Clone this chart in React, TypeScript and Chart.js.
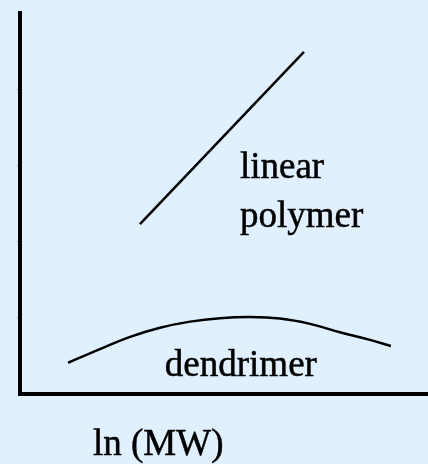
import React, { useEffect, useRef } from "react";
import { Chart, registerables } from "chart.js";

Chart.register(...registerables);

const linearX = [2.94, 6.96];
const linearY = [2.23, 4.49];

const dendX = [1.18, 1.96, 2.7, 3.43, 4.17, 4.9, 5.64, 6.37, 7.11, 7.84, 8.58, 9.09];
const dendY = [0.41, 0.59, 0.75, 0.87, 0.95, 0.995, 1.01, 0.99, 0.92, 0.81, 0.71, 0.63];

const yTicks = [0, 1, 2, 3, 4, 5];

const labels = [
  { text: "linear", x: 5.39, y: 2.83 },
  { text: "polymer", x: 5.39, y: 2.19 },
  { text: "dendrimer", x: 3.55, y: 0.23 },
];
const xTitle = "ln (MW)";

const BG = "#E0F0FF";
const FONT = '37px "Liberation Serif", "Times New Roman", serif';

export default function App() {
  const ref = useRef<HTMLCanvasElement | null>(null);

  useEffect(() => {
    document.body.style.margin = "0";
    document.body.style.background = BG;
    const canvas = ref.current;
    if (!canvas) return;

    const textPlugin = {
      id: "texts",
      beforeDraw(chart: any) {
        const ctx = chart.ctx;
        ctx.save();
        ctx.fillStyle = BG;
        ctx.fillRect(0, 0, chart.width, chart.height);
        ctx.restore();
      },
      afterDraw(chart: any) {
        const ctx = chart.ctx;
        const xs = chart.scales.x;
        const ys = chart.scales.y;
        ctx.save();
        ctx.fillStyle = "#000";
        ctx.strokeStyle = "#000";
        ctx.lineWidth = 0.5;
        ctx.font = FONT;
        ctx.textAlign = "left";
        ctx.textBaseline = "alphabetic";
        for (const l of labels) {
          const px = xs.getPixelForValue(l.x);
          const py = ys.getPixelForValue(l.y);
          ctx.fillText(l.text, px, py);
          ctx.strokeText(l.text, px, py);
        }
        ctx.fillText(xTitle, 93, 455);
        ctx.strokeText(xTitle, 93, 455);
        ctx.restore();
      },
    };

    const chart = new Chart(canvas, {
      type: "line",
      data: {
        datasets: [
          {
            label: "linear polymer",
            data: linearX.map((x, i) => ({ x, y: linearY[i] })),
            borderColor: "#000",
            borderWidth: 2.5,
            pointRadius: 0,
            fill: false,
          },
          {
            label: "dendrimer",
            data: dendX.map((x, i) => ({ x, y: dendY[i] })),
            borderColor: "#000",
            borderWidth: 2.5,
            pointRadius: 0,
            fill: false,
            tension: 0.4,
          },
        ],
      },
      options: {
        animation: false,
        responsive: false,
        devicePixelRatio: 1,
        layout: { padding: { left: 17, top: 13, right: 0, bottom: 62 } },
        plugins: { legend: { display: false }, tooltip: { enabled: false } },
        scales: {
          x: {
            type: "linear",
            min: 0,
            max: 10,
            grid: { display: false },
            ticks: { display: false },
            border: { display: true, color: "#000", width: 4 },
          },
          y: {
            type: "linear",
            min: 0,
            max: 5,
            afterBuildTicks(scale: any) {
              scale.ticks = yTicks.map((v) => ({ value: v }));
            },
            grid: {
              display: true,
              drawOnChartArea: false,
              drawTicks: true,
              tickLength: 3,
              lineWidth: 1,
              color: (c: any) =>
                c.tick && c.tick.value > 0 && c.tick.value < 5 ? "#8f9fae" : "rgba(0,0,0,0)",
            },
            ticks: { display: false },
            border: { display: true, color: "#000", width: 4 },
          },
        },
      },
      plugins: [textPlugin],
    });

    return () => chart.destroy();
  }, []);

  return (
    <div style={{ position: "absolute", left: 0, top: 0, width: 428, height: 464, background: BG }}>
      <canvas ref={ref} width={428} height={464} style={{ display: "block" }} />
    </div>
  );
}
